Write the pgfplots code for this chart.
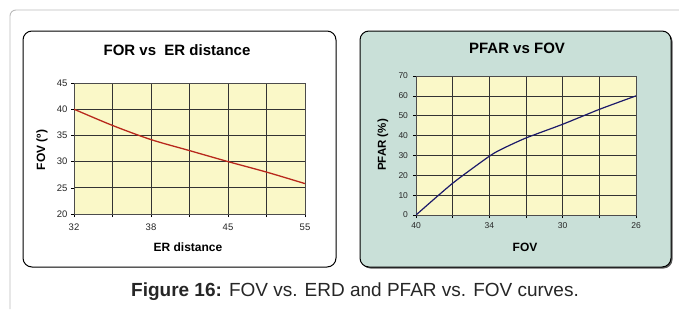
\documentclass[border=0pt]{standalone}
\usepackage{pgfplots}
\pgfplotsset{compat=1.18}
\usepackage{fontspec}
\setmainfont{Liberation Sans}
\definecolor{plotbg}{HTML}{FAF8C8}
\definecolor{panelteal}{HTML}{C9E0D8}
\definecolor{curvered}{HTML}{B8281C}
\definecolor{curvenavy}{HTML}{1C1A6A}
\definecolor{framegray}{HTML}{BBBBBB}
\pgfplotsset{
  mygrid/.style={
    scale only axis,
    anchor=south west,
    axis background/.style={fill=plotbg},
    grid=major,
    major grid style={black!80, line width=0.7pt},
    axis line style={black!70, line width=0.8pt},
    tick style={black, line width=0.6pt},
    tick align=outside,
    xtick pos=bottom, ytick pos=left,
    major tick length=3pt,
    /pgf/number format/assume math mode=true,
    xmin=0, xmax=6,
    xtick={0,1,2,3,4,5,6},
  }
}
\begin{document}
\begin{tikzpicture}
\useasboundingbox (0pt,0pt) rectangle (679pt,309pt);
% outer frame
\draw[framegray, line width=0.9pt] (10pt,0pt) -- (10pt,293pt) arc[start angle=180,end angle=90,radius=6pt] -- (679pt,299pt);
% left panel
\draw[black, line width=1pt, fill=white, rounded corners=9pt] (23pt,42pt) rectangle (336pt,278pt);
% right panel with shadow
\fill[black!65, rounded corners=9pt] (361.5pt,40.5pt) rectangle (672.5pt,276.5pt);
\draw[black, line width=1pt, fill=panelteal, rounded corners=9pt] (360pt,42pt) rectangle (671pt,278pt);

% left axis
\begin{axis}[mygrid,
  at={(74pt,95pt)}, width=231pt, height=131pt,
  ymin=20, ymax=45, ytick={20,25,30,35,40,45},
  xticklabels={32,,38,,45,,55},
  ticklabel style={font=\fontsize{9.5}{11}\selectfont, text=black!85},
  xticklabel style={yshift=-3pt},
]
\addplot[curvered, line width=1.3pt, smooth, tension=0.5] coordinates {
  (0,40) (1,36.9) (2,34.2) (3,32.1) (4,30.0) (5,28.0) (6,25.8)
};
\end{axis}

% right axis
\begin{axis}[mygrid,
  at={(416pt,94pt)}, width=220pt, height=139pt,
  ymin=0, ymax=70, ytick={0,10,20,30,40,50,60,70},
  xticklabels={40,,34,,30,,26},
  ticklabel style={font=\fontsize{8.5}{10}\selectfont, text=black!85},
  xticklabel style={yshift=-1.5pt},
  yticklabel style={xshift=-1.5pt},
]
\addplot[curvenavy, line width=1.2pt, smooth, tension=0.4] coordinates {
  (0,0) (1,16.0) (2,29.6) (2.35,33.3) (3,38.8) (4,45.7) (5,53.2) (6,60.0)
};
\end{axis}

% titles and labels
\node[font=\fontsize{15}{17}\selectfont\bfseries] at (177pt,259pt) {FOR vs\ \ ER distance};
\node[font=\fontsize{15}{17}\selectfont\bfseries] at (517pt,261pt) {PFAR vs FOV};
\node[font=\fontsize{12}{14}\selectfont\bfseries] at (188pt,62pt) {ER distance};
\node[font=\fontsize{12}{14}\selectfont\bfseries] at (525pt,62pt) {FOV};
\node[font=\fontsize{12}{14}\selectfont\bfseries, rotate=90] at (42pt,159pt) {FOV (º)};
\node[font=\fontsize{11.5}{14}\selectfont\bfseries, rotate=90] at (383pt,164pt) {PFAR (\%)};

% caption
\node[font=\fontsize{19}{22}\selectfont, text=black!85] at (355pt,17pt) {\textbf{Figure 16:} FOV vs. ERD and PFAR vs. FOV curves.};
\end{tikzpicture}
\end{document}
